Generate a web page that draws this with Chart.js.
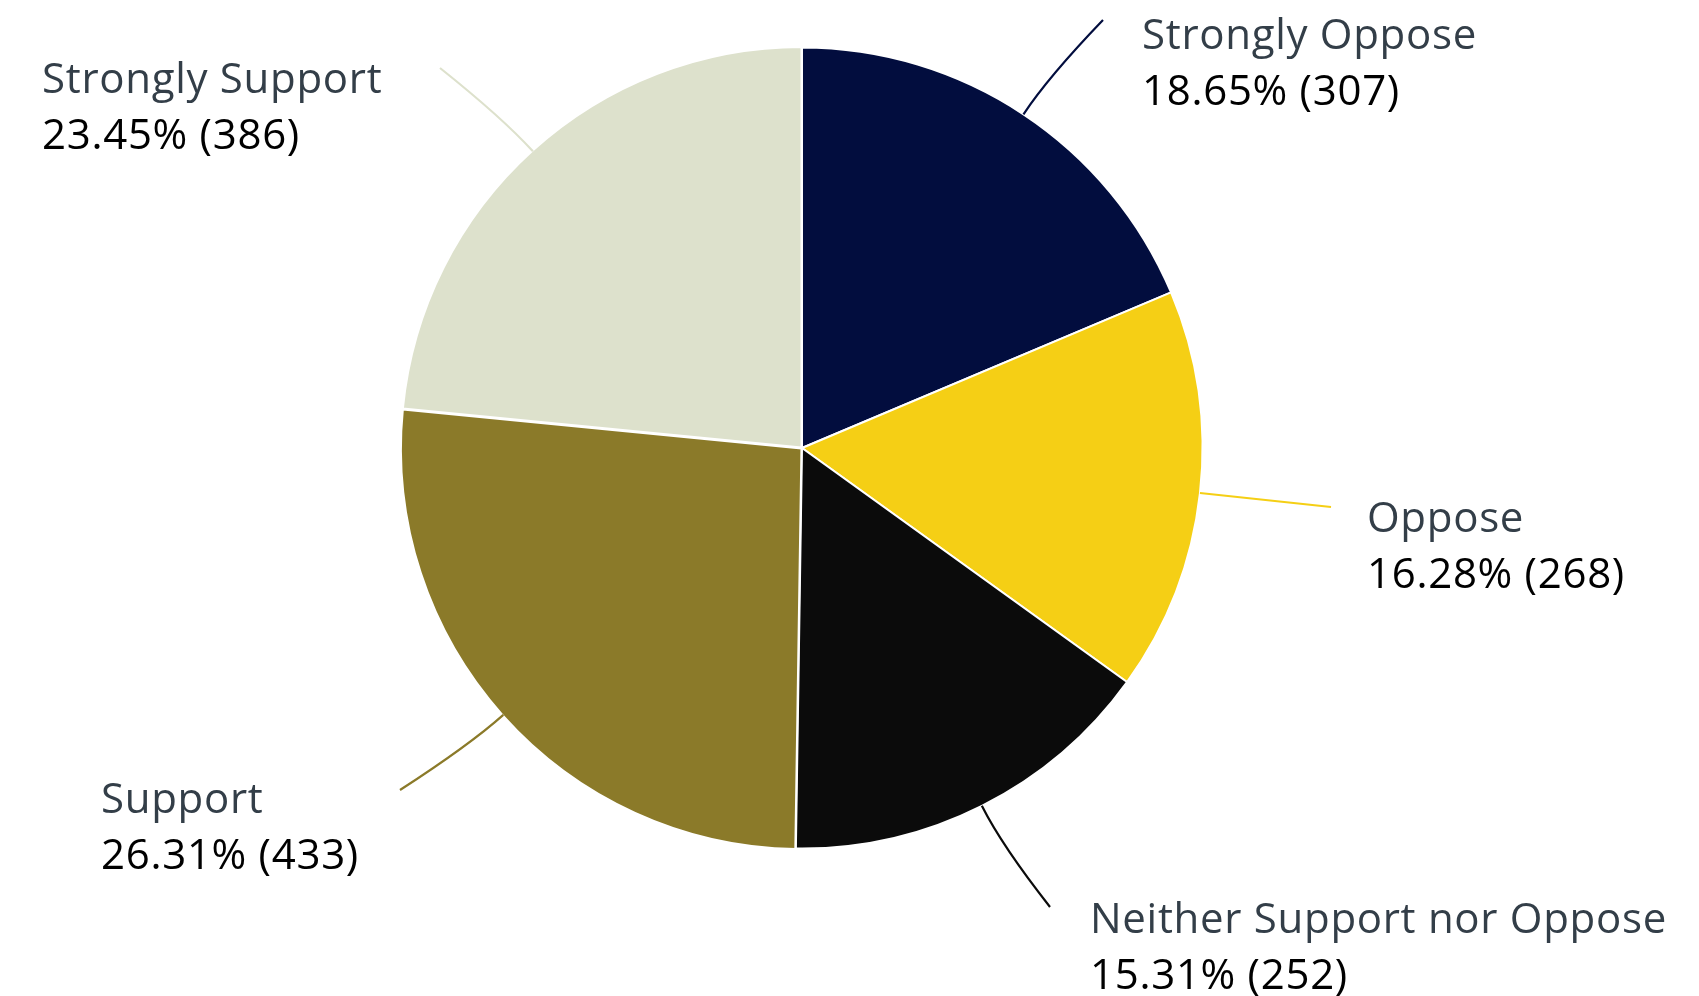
<!DOCTYPE html>
<html>
<head>
<meta charset="utf-8">
<title>Support / Oppose</title>
<script src="https://cdn.jsdelivr.net/npm/chart.js@4/dist/chart.umd.min.js"></script>
<style>
  html, body { margin: 0; padding: 0; background: #fff; }
  canvas { display: block; }
</style>
</head>
<body>
<canvas id="pieChart" width="1699" height="996"></canvas>
<script>
// Respuestas
var categories = ['Strongly Oppose', 'Oppose', 'Neither Support nor Oppose', 'Support', 'Strongly Support'];
var counts = [307, 268, 252, 433, 386];
var percents = [18.65, 16.28, 15.31, 26.31, 23.45];
var colors = ['#020d3e', '#f5cf15', '#0b0b0b', '#8b7a29', '#dde1cc'];

// Dónde va cada etiqueta: texto (x, línea base) y final de la línea guía
var labelSpots = [
    { x: 1142, y: 49,  endX: 1103, endY: 20 },
    { x: 1367, y: 532, endX: 1331, endY: 507 },
    { x: 1090, y: 933, endX: 1050, endY: 907 },
    { x: 101,  y: 813, endX: 400,  endY: 790 },
    { x: 42,   y: 93,  endX: 440,  endY: 68 }
];

var calloutPlugin = {
    id: 'callouts',
    afterDatasetsDraw: function (chart) {
        var ctx = chart.ctx;
        var arcs = chart.getDatasetMeta(0).data;
        ctx.save();
        arcs.forEach(function (arc, i) {
            var p = arc.getProps(['x', 'y', 'startAngle', 'endAngle', 'outerRadius']);
            var mid = (p.startAngle + p.endAngle) / 2;
            var dx = Math.cos(mid), dy = Math.sin(mid);
            var sx = p.x + dx * p.outerRadius;
            var sy = p.y + dy * p.outerRadius;
            var spot = labelSpots[i];

            // línea guía curva
            ctx.beginPath();
            ctx.moveTo(sx, sy);
            ctx.quadraticCurveTo(sx + dx * 45, sy + dy * 45, spot.endX, spot.endY);
            ctx.strokeStyle = colors[i];
            ctx.lineWidth = 2.2;
            ctx.stroke();

            ctx.textAlign = 'left';
            ctx.textBaseline = 'alphabetic';
            ctx.letterSpacing = '0.7px';
            ctx.font = '500 42px "Open Sans"';
            ctx.fillStyle = '#333e48';
            ctx.fillText(categories[i], spot.x, spot.y);
            ctx.fillStyle = '#000000';
            ctx.fillText(percents[i].toFixed(2) + '% (' + counts[i] + ')', spot.x, spot.y + 56);
        });
        ctx.restore();
    }
};

var ctx = document.getElementById('pieChart').getContext('2d');
var pieChart = new Chart(ctx, {
    type: 'pie',
    data: {
        labels: categories,
        datasets: [{
            data: counts,
            backgroundColor: colors,
            borderColor: '#ffffff',
            borderWidth: 2,
            offset: [0, 0, 0, 3, 3]
        }]
    },
    options: {
        responsive: false,
        animation: false,
        layout: {
            padding: { top: 45, bottom: 145, left: 399, right: 494 }
        },
        plugins: {
            legend: { display: false },
            tooltip: { enabled: false }
        }
    },
    plugins: [calloutPlugin]
});
</script>
</body>
</html>
